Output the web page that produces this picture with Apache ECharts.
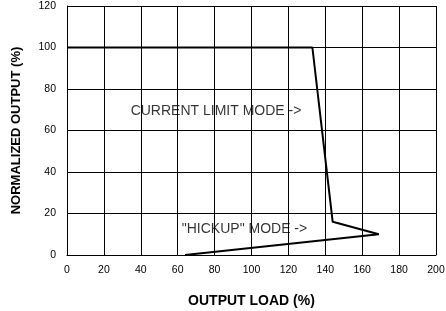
<!DOCTYPE html>
<html>
<head>
<meta charset="utf-8">
<script src="https://cdn.jsdelivr.net/npm/echarts@6/dist/echarts.min.js"></script>
<style>
    html,body{margin:0;padding:0;background:#fff;}
    #chart{width:446px;height:311px;}
</style>
</head>
<body>
<div id="chart"></div>
<script>
    // curve: output load (%) vs normalized output (%)
    var loadPts = [0, 133, 144, 169, 64];
    var outPts = [100, 100, 16, 10, 0];
    // mode notes
    var noteText = ['CURRENT LIMIT MODE ->', '"HICKUP" MODE ->'];
    var noteX = [34.5, 62.2];
    var noteY = [69.4, 12.7];

    var font = 'Liberation Sans, Arial, Helvetica, sans-serif';

    var curve = loadPts.map(function (x, i) { return [x, outPts[i]]; });
    var notes = noteText.map(function (t, i) { return { value: [noteX[i], noteY[i]], name: t }; });

    var option = {
        animation: false,
        grid: { left: 67, right: 10, top: 6, bottom: 56, outerBoundsMode: 'none', containLabel: false },
        xAxis: {
            type: 'value', min: 0, max: 200, interval: 20,
            name: 'OUTPUT LOAD (%)', nameLocation: 'middle', nameGap: 39,
            nameTextStyle: { fontFamily: font, fontWeight: 'bold', fontSize: 14, color: '#000' },
            axisLine: { lineStyle: { color: '#000', width: 1 } },
            axisTick: { show: false },
            axisLabel: { fontFamily: font, fontSize: 10.5, color: '#000', margin: 10 },
            splitLine: { show: true, lineStyle: { color: '#000', width: 1 } }
        },
        yAxis: {
            type: 'value', min: 0, max: 120, interval: 20,
            name: 'NORMALIZED OUTPUT (%)', nameLocation: 'middle', nameGap: 44,
            nameTextStyle: { fontFamily: font, fontWeight: 'bold', fontSize: 13, color: '#000' },
            axisLine: { show: true, lineStyle: { color: '#000', width: 1 } },
            axisTick: { show: false },
            axisLabel: { fontFamily: font, fontSize: 10.5, color: '#000', margin: 11 },
            splitLine: { show: true, lineStyle: { color: '#000', width: 1 } }
        },
        series: [{
            type: 'line',
            data: curve,
            symbol: 'none',
            lineStyle: { color: '#000', width: 2 },
            z: 3
        }, {
            type: 'scatter',
            data: notes,
            symbolSize: 0,
            label: {
                show: true, position: 'right', distance: 0,
                formatter: '{b}',
                fontFamily: font, fontSize: 14, color: '#000'
            },
            z: 4
        }]
    };

    echarts.init(document.getElementById('chart')).setOption(option);
</script>
</body>
</html>
